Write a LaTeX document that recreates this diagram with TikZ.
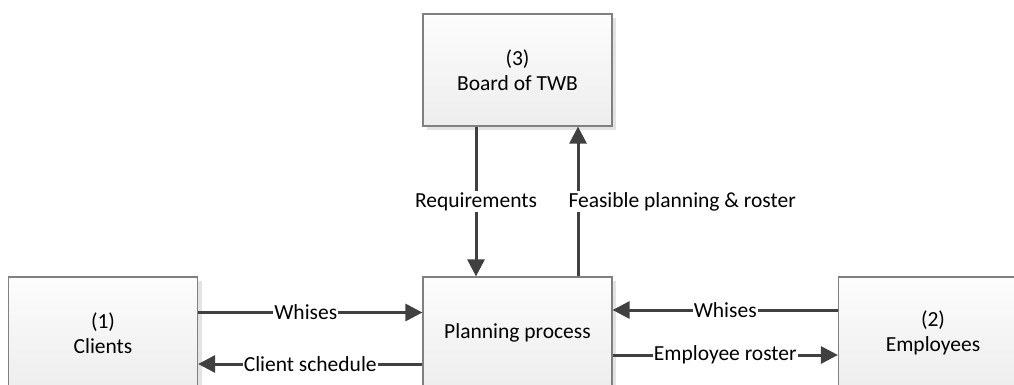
\documentclass[tikz,border=0pt]{standalone}
\usepackage{fontspec}
\setmainfont{Carlito}
\usetikzlibrary{arrows.meta,shadows}

\tikzset{
  blok/.style={draw=black!50,line width=1.2pt,top color=black!1,bottom color=black!7,
    minimum width=189pt,minimum height=112pt,align=center,
    drop shadow={shadow xshift=4pt,shadow yshift=-4pt,fill=black!11,opacity=1}},
  pijl/.style={draw=black!75,line width=3pt,-{Triangle[length=17pt,width=17pt]}},
  lbl/.style={fill=white,inner sep=1pt}
}

\begin{document}
\begin{tikzpicture}[x=1pt,y=-1pt,font=\fontsize{21.5}{25}\selectfont]
\useasboundingbox (0,0) rectangle (1014,385);
\begin{scope}
\clip (0,0) rectangle (1014,385);
% de vier blokken
\node[blok] (board) at (517.5,70) {(3)\\Board of TWB};
\node[blok] (clients) at (103,333) {(1)\\Clients};
\node[blok] (plan) at (517.5,333) {Planning process};
\node[blok] (empl) at (933,333) {(2)\\Employees};
\end{scope}

% stromen
\draw[pijl] ([xshift=-41.5pt]board.south) -- ([xshift=-41.5pt]plan.north)
  node[lbl,pos=0.5] {Requirements};
\draw[pijl] ([xshift=60.5pt]plan.north) -- ([xshift=60.5pt]board.south)
  node[lbl,pos=0.5,anchor=west,xshift=-12pt] {Feasible planning \& roster};
\draw[pijl] ([yshift=20.5pt]clients.east) -- ([yshift=20.5pt]plan.west)
  node[lbl,pos=0.48] {Whises};
\draw[pijl] ([yshift=-31pt]plan.west) -- ([yshift=-31pt]clients.east)
  node[lbl,pos=0.5] {Client schedule};
\draw[pijl] ([yshift=23pt]empl.west) -- ([yshift=23pt]plan.east)
  node[lbl,pos=0.5] {Whises};
\draw[pijl] ([yshift=-22pt]plan.east) -- ([yshift=-22pt]empl.west)
  node[lbl,pos=0.5] {Employee roster};
\end{tikzpicture}
\end{document}
